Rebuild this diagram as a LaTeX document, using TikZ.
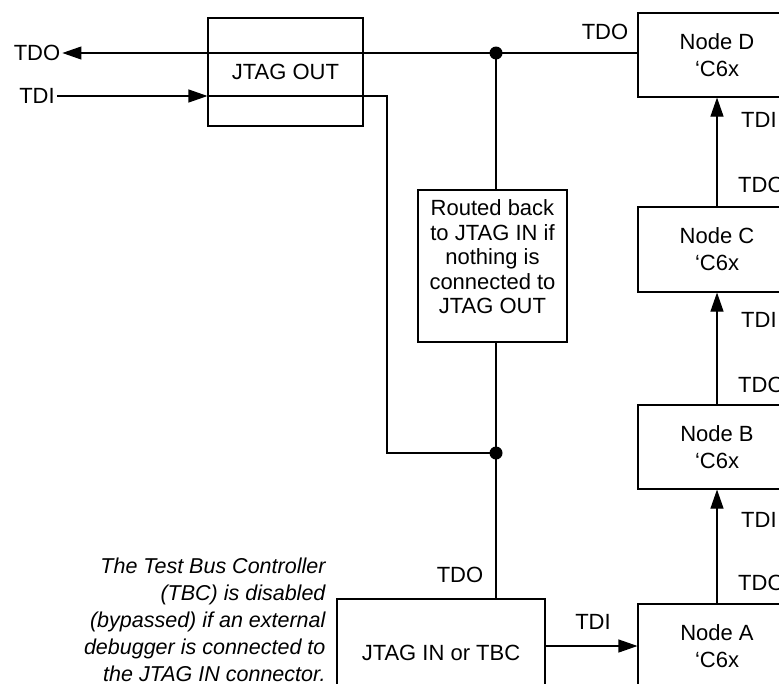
\documentclass[tikz,border=0pt]{standalone}
\usepackage{fontspec}
\setmainfont{Liberation Sans}
\usetikzlibrary{arrows.meta}
\begin{document}
\begin{tikzpicture}[x=1pt,y=-1pt,
  every node/.style={font=\fontsize{22}{27}\selectfont},
  box/.style={draw,line width=1.1pt,inner sep=0pt,align=center},
  lbl/.style={inner sep=2pt},
  wire/.style={line width=1.1pt},
  arr/.style={wire,-{Triangle[length=19pt,width=13pt]}},
  dot/.style={fill=black}]
\useasboundingbox (0,0) rectangle (779,683);
\clip (0,0) rectangle (779,683);

% boxes
\node[box,minimum width=155pt,minimum height=108pt] (jout) at (285.5,72) {JTAG OUT};
\node[box,minimum width=149pt,minimum height=152pt] (routed) at (492.5,266) {};
\node[align=center,font=\fontsize{22}{24.5}\selectfont] (routedtxt) at (492.5,257)
  {Routed back\\to JTAG IN if\\nothing is\\connected to\\JTAG OUT};
\node[box,minimum width=208pt,minimum height=108pt] (jin) at (441,653) {JTAG IN or TBC};
\node[box,minimum width=158pt,minimum height=84pt] (nd) at (717,55) {Node D\\`C6x};
\node[box,minimum width=158pt,minimum height=85pt] (nc) at (717,249.5) {Node C\\`C6x};
\node[box,minimum width=158pt,minimum height=84pt] (nb) at (717,447) {Node B\\`C6x};
\node[box,minimum width=158pt,minimum height=84pt] (na) at (717,646) {Node A\\`C6x};

% italic note
\node[align=right,anchor=east,font=\fontsize{21.5}{27}\selectfont\itshape] (note) at (329,620)
  {The Test Bus Controller\\(TBC) is disabled\\(bypassed) if an external\\debugger is connected to\\the JTAG IN connector.};

% labels
\node[lbl] (tdoL) at (37,53) {TDO};
\node[lbl] (tdiL) at (37,96) {TDI};
\node[lbl] (tdoD) at (605,32) {TDO};
\node[lbl] (tdoJ) at (460,575) {TDO};
\node[lbl] (tdiA) at (593,622) {TDI};
\node[lbl,anchor=west] (tdiD) at (739,120) {TDI};
\node[lbl,anchor=west] (tdoC) at (736,185) {TDO};
\node[lbl,anchor=west] (tdiC) at (739,320) {TDI};
\node[lbl,anchor=west] (tdoB) at (736,385) {TDO};
\node[lbl,anchor=west] (tdiB) at (739,520) {TDI};
\node[lbl,anchor=west] (tdoA) at (736,583) {TDO};

% junctions and corners
\coordinate (j1) at (496,53);
\coordinate (j2) at (496,453);
\coordinate (c1) at (387,96);
\coordinate (c2) at (387,453);

% wires
\draw[arr] (nd.west |- j1) -- (j1) -- (tdoL.east);
\draw[arr] (tdiL.east) -- (jout.west |- tdiL.east);
\draw[wire] (jout.west |- tdiL.east) -- (c1) -- (c2) -- (j2);
\draw[wire] (j1) -- (j1 |- routed.north);
\draw[wire] (j1 |- routed.south) -- (j2) -- (j2 |- jin.north);
\draw[arr] (jin.east |- na.west) -- (na.west);
\draw[arr] (na.north) -- (nb.south);
\draw[arr] (nb.north) -- (nc.south);
\draw[arr] (nc.north) -- (nd.south);

\fill[dot] (j1) circle (6.5pt);
\fill[dot] (j2) circle (6.5pt);
\end{tikzpicture}
\end{document}
